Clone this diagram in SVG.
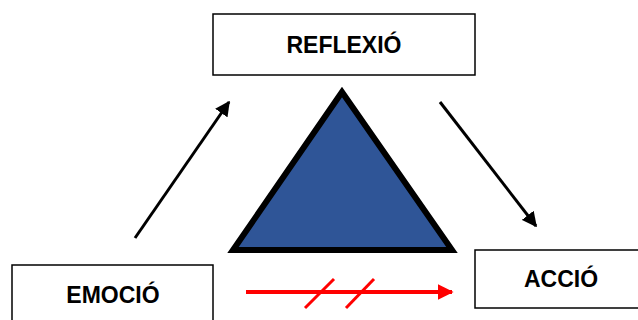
<svg xmlns="http://www.w3.org/2000/svg" width="638" height="320" viewBox="0 0 638 320">
<defs>
<style>
.box{fill:#fff;stroke:#000;stroke-width:1.5}
.lbl{font-family:"Liberation Sans",Arial,sans-serif;font-weight:bold;font-size:23px;fill:#000;text-anchor:middle}
.blk{stroke:#000;stroke-width:3;fill:none}
.red{stroke:#f00;stroke-width:4;fill:none}
</style>
<marker id="ah" viewBox="0 0 10 10" refX="9" refY="5" markerWidth="5" markerHeight="5" markerUnits="strokeWidth" orient="auto">
<path d="M0,0 L10,5 L0,10 Z" fill="#000"/>
</marker>
<marker id="ahr" viewBox="0 0 10 10" refX="9" refY="5" markerWidth="4" markerHeight="4" markerUnits="strokeWidth" orient="auto">
<path d="M0,0 L10,5 L0,10 Z" fill="#f00"/>
</marker>
</defs>
<g id="triangle">
<polygon points="342,92 233,250 452,250" fill="#2F5597" stroke="#000" stroke-width="6" stroke-linejoin="miter"/>
</g>
<g id="reflexio">
<rect class="box" x="213" y="14" width="262" height="61"/>
<text class="lbl" x="344" y="53">REFLEXIÓ</text>
</g>
<g id="emocio">
<rect class="box" x="12" y="265" width="201" height="60"/>
<text class="lbl" x="113" y="303">EMOCIÓ</text>
</g>
<g id="accio">
<rect class="box" x="475" y="250" width="165" height="58"/>
<text class="lbl" x="561" y="287">ACCIÓ</text>
</g>
<g id="connectors">
<line class="blk" x1="135" y1="238" x2="229" y2="102" marker-end="url(#ah)"/>
<line class="blk" x1="440" y1="102" x2="536" y2="226" marker-end="url(#ah)"/>
<line class="red" x1="246" y1="292" x2="452" y2="292" marker-end="url(#ahr)"/>
<line stroke="#f00" stroke-width="3" x1="305" y1="308" x2="334" y2="279"/>
<line stroke="#f00" stroke-width="3" x1="346" y1="308" x2="374" y2="279"/>
</g>
</svg>
